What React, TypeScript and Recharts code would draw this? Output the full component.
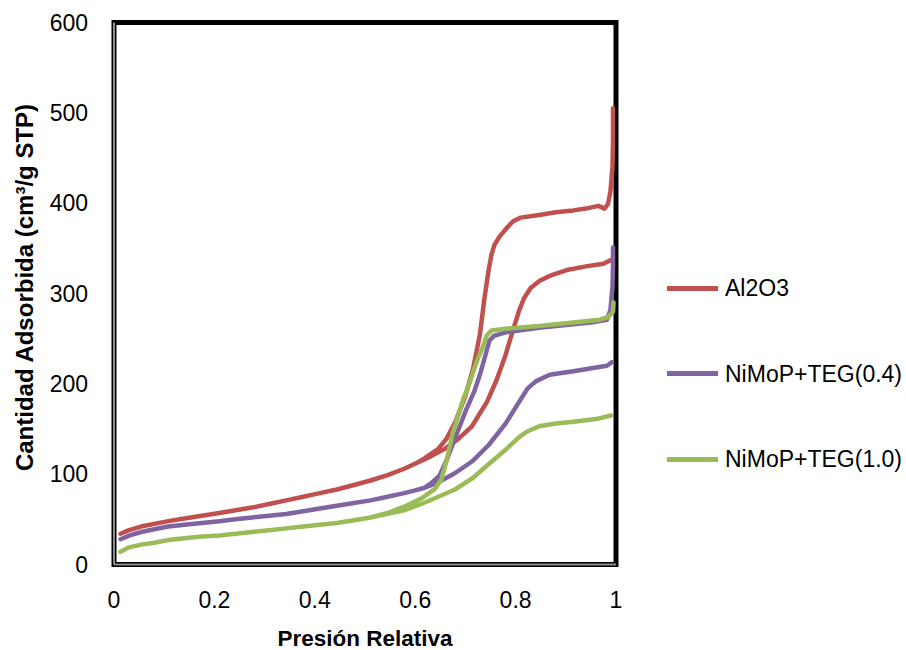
import React from 'react';
import { LineChart, Line, XAxis, YAxis, ReferenceArea, ReferenceLine, Legend } from 'recharts';

const FONT = '"Liberation Sans", Arial, sans-serif';

const X_TICKS = [0, 0.2, 0.4, 0.6, 0.8, 1];
const Y_TICKS = [0, 100, 200, 300, 400, 500, 600];

const SERIES_NAMES = ['Al2O3', 'NiMoP+TEG(0.4)', 'NiMoP+TEG(1.0)'];
const SERIES_COLORS = ['#C0504D', '#8064A2', '#9BBB59'];

// [relative pressure, adsorbed volume]
const AL2O3_ADS: [number, number][] = [
  [0.013, 34], [0.03, 38], [0.054, 42], [0.08, 45], [0.108, 48], [0.14, 51], [0.175, 54],
  [0.21, 57], [0.242, 60], [0.275, 63], [0.309, 67], [0.343, 71], [0.377, 75], [0.41, 79],
  [0.444, 83], [0.478, 88], [0.511, 93], [0.545, 99], [0.578, 106], [0.605, 113], [0.632, 120],
  [0.659, 128], [0.686, 139], [0.713, 153], [0.743, 180], [0.762, 204], [0.78, 232],
  [0.794, 258], [0.807, 281], [0.817, 295], [0.83, 306], [0.848, 314], [0.87, 320],
  [0.902, 326], [0.94, 330], [0.975, 333], [0.99, 337],
];
const AL2O3_DES: [number, number][] = [
  [0.994, 505], [0.994, 470], [0.993, 441], [0.989, 413], [0.984, 399], [0.977, 394],
  [0.965, 397], [0.94, 394], [0.915, 392], [0.88, 390], [0.847, 387], [0.81, 384],
  [0.795, 380], [0.78, 371], [0.768, 363], [0.758, 354], [0.752, 343], [0.746, 325],
  [0.738, 295], [0.729, 255], [0.715, 216], [0.699, 185], [0.68, 158], [0.662, 139],
  [0.646, 128], [0.62, 118], [0.605, 113],
];

const TEG04_ADS: [number, number][] = [
  [0.013, 28], [0.03, 32], [0.054, 36], [0.08, 39], [0.108, 42], [0.14, 44], [0.175, 46],
  [0.21, 48], [0.242, 50], [0.275, 52], [0.309, 54], [0.343, 56], [0.377, 59], [0.41, 62],
  [0.444, 65], [0.478, 68], [0.511, 71], [0.545, 75], [0.578, 79], [0.6, 82], [0.619, 85],
  [0.646, 91], [0.679, 101], [0.713, 114], [0.746, 132], [0.78, 156], [0.807, 180],
  [0.824, 195], [0.841, 203], [0.868, 210], [0.915, 214], [0.96, 218], [0.982, 220],
  [0.992, 224],
];
const TEG04_DES: [number, number][] = [
  [0.994, 351], [0.994, 330], [0.993, 308], [0.989, 282], [0.982, 271], [0.95, 268],
  [0.915, 266], [0.847, 262], [0.78, 257], [0.757, 253], [0.748, 248], [0.74, 232],
  [0.73, 212], [0.718, 192], [0.702, 172], [0.683, 145], [0.663, 116], [0.648, 98],
  [0.632, 90], [0.619, 85],
];

const TEG10_ADS: [number, number][] = [
  [0.013, 14], [0.03, 19], [0.054, 22], [0.08, 24], [0.108, 27], [0.14, 29], [0.175, 31],
  [0.21, 32], [0.242, 34], [0.275, 36], [0.309, 38], [0.343, 40], [0.377, 42], [0.41, 44],
  [0.444, 46], [0.478, 49], [0.511, 52], [0.545, 56], [0.578, 60], [0.612, 67], [0.646, 75],
  [0.679, 83], [0.713, 95], [0.746, 111], [0.78, 127], [0.807, 141], [0.822, 147],
  [0.847, 153], [0.88, 156], [0.915, 158], [0.96, 161], [0.99, 165],
];
const TEG10_DES: [number, number][] = [
  [0.995, 290], [0.994, 280], [0.985, 274], [0.968, 271], [0.915, 268], [0.847, 264],
  [0.78, 261], [0.752, 259], [0.743, 254], [0.734, 240], [0.722, 224], [0.709, 202],
  [0.695, 182], [0.675, 146], [0.663, 116], [0.652, 94], [0.64, 84], [0.612, 73],
  [0.578, 64], [0.545, 57], [0.511, 52],
];

const BRANCHES: [number, number][][][] = [
  [AL2O3_ADS, AL2O3_DES],
  [TEG04_ADS, TEG04_DES],
  [TEG10_ADS, TEG10_DES],
];

type Pt = { x: number; y: number | null };
const toLoop = (ads: [number, number][], des: [number, number][]): Pt[] => [
  ...ads.map(([x, y]) => ({ x, y })),
  { x: ads[ads.length - 1][0], y: null },
  ...des.map(([x, y]) => ({ x, y })),
];

const SERIES = SERIES_NAMES.map((name, i) => ({
  name,
  color: SERIES_COLORS[i],
  data: toLoop(BRANCHES[i][0], BRANCHES[i][1]),
}));

const renderLegend = () => (
  <div style={{ display: 'flex', flexDirection: 'column' }}>
    {SERIES.map((s) => (
      <div key={s.name} style={{ height: 85.5, display: 'flex', alignItems: 'center' }}>
        <span style={{ display: 'inline-block', width: 51, height: 5, background: s.color, marginRight: 7 }} />
        <span style={{ fontSize: 23, fontFamily: FONT, color: '#000', lineHeight: '26px' }}>{s.name}</span>
      </div>
    ))}
  </div>
);

const YTitle = (props: any) => {
  const vb = props.viewBox || { x: 0, y: 0, width: 0, height: 0 };
  const x = vb.x + 24;
  const y = vb.y + vb.height / 2 - 6;
  return (
    <text
      x={x}
      y={y}
      transform={`rotate(-90, ${x}, ${y})`}
      textAnchor="middle"
      dominantBaseline="central"
      style={{ fontFamily: FONT, fontSize: 24, fontWeight: 'bold', fill: '#000' }}
    >
      Cantidad Adsorbida (cm³/g STP)
    </text>
  );
};

export default function App() {
  return (
    <div style={{ position: 'absolute', left: 0, top: 0, width: 906, height: 650, background: '#fff' }}>
      <LineChart width={906} height={650} margin={{ top: 22.5, right: 290, bottom: 0.5, left: 0 }}>
        <XAxis
          dataKey="x"
          type="number"
          domain={[0, 1]}
          ticks={X_TICKS}
          allowDataOverflow
          axisLine={false}
          tickLine={false}
          tickSize={0}
          tickMargin={27.5}
          height={85}
          tick={{ fontSize: 23, fill: '#000', fontFamily: FONT }}
          label={{
            value: 'Presión Relativa',
            position: 'insideBottom',
            offset: 3.5,
            fontSize: 22.5,
            fontWeight: 'bold',
            fill: '#000',
            fontFamily: FONT,
          }}
        />
        <YAxis
          type="number"
          domain={[0, 600]}
          ticks={Y_TICKS}
          allowDataOverflow
          axisLine={false}
          tickLine={false}
          tickSize={0}
          tickMargin={26}
          width={114}
          tick={{ fontSize: 23, fill: '#000', fontFamily: FONT }}
          label={{ content: YTitle }}
        />
        <ReferenceArea x1={0} x2={1} y1={0} y2={600} fill="none" stroke="#000" strokeWidth={5} ifOverflow="visible" />
        <ReferenceLine x={0} stroke="#8c8c8c" strokeWidth={2} ifOverflow="visible" />
        <ReferenceLine y={0} stroke="#8c8c8c" strokeWidth={2} ifOverflow="visible" />
        {SERIES.map((s) => (
          <Line
            key={s.name}
            name={s.name}
            data={s.data}
            dataKey="y"
            stroke={s.color}
            strokeWidth={4.5}
            strokeLinejoin="round"
            strokeLinecap="round"
            dot={false}
            activeDot={false}
            isAnimationActive={false}
            connectNulls={false}
            type="linear"
          />
        ))}
        <Legend
          layout="horizontal"
          verticalAlign="middle"
          align="center"
          content={renderLegend}
          wrapperStyle={{ left: 667, top: 245.25, width: 239, height: 257 }}
        />
      </LineChart>
    </div>
  );
}
